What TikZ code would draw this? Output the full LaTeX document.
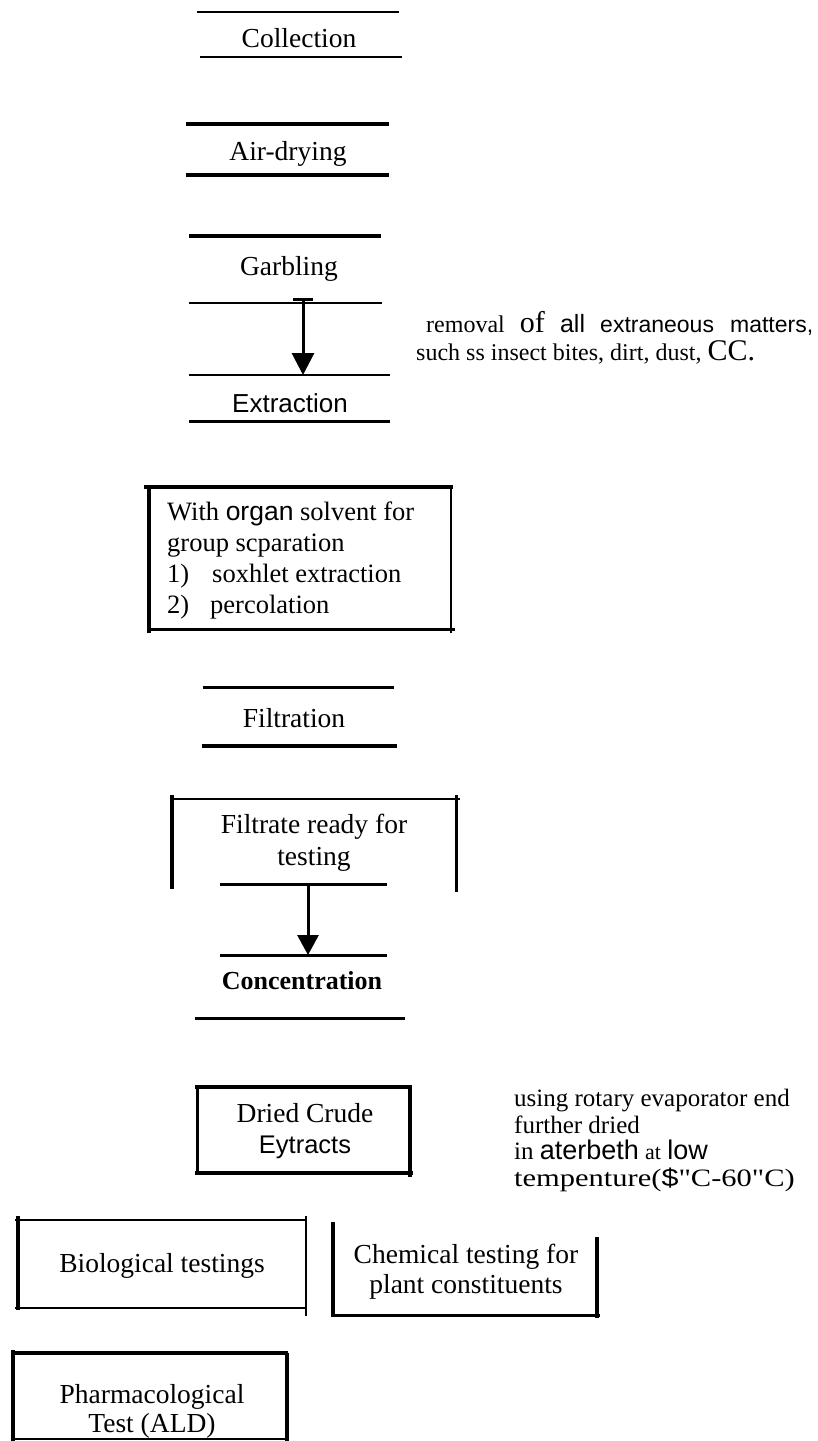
\documentclass[tikz,border=0pt]{standalone}
\usepackage{fontspec}
\setmainfont{Liberation Serif}
\newfontfamily\arialfont{Liberation Sans}
\newfontfamily\rawserif{Liberation Serif}
\usepackage{graphicx}
\usepackage{tikz}
\usetikzlibrary{arrows.meta, positioning}
\tikzset{
    stagetext/.style={inner sep=0pt, anchor=base, align=center, font=\fontsize{27.5}{30.5}\selectfont},
    boxtext/.style={inner sep=0pt, anchor=base west, align=left, font=\fontsize{26.5}{31}\selectfont},
    notetext/.style={inner sep=0pt, anchor=base west, align=left, font=\fontsize{24}{28}\selectfont},
    thinrule/.style={line width=2pt},
    midrule/.style={line width=3pt},
    thickrule/.style={line width=4.5pt},
    arrow/.style={-{Triangle[width=21pt,length=20pt]}, line width=3pt},
    cappedarrow/.style={{Bar[width=20pt]}-{Triangle[width=22pt,length=22pt]}, line width=3pt},
}

\begin{document}
\begin{tikzpicture}[x=1pt, y=-1pt]
    \useasboundingbox (0,0) rectangle (818,1441);

    % === COLLECTION / DRYING / GARBLING ===
    \node[stagetext] (collection) at (299,47) {Collection};
    \draw[thinrule] (197,12) -- (399,12);
    \draw[thinrule] (200,57) -- (402,57);

    \node[stagetext] (airdrying) at (288,160) {Air-drying};
    \draw[thickrule] (186,124) -- (389,124);
    \draw[thickrule] (186,175) -- (389,175);

    \node[stagetext] (garbling) at (289,275) {Garbling};
    \draw[thickrule] (189,236) -- (381,236);
    \draw[thinrule] (189,303) -- (382,303);

    % === EXTRACTION ===
    \node[stagetext, font=\arialfont\fontsize{26}{30}\selectfont] (extraction) at (290,412) {Extraction};
    \draw[thinrule] (189,375) -- (390,375);
    \draw[midrule] (189,421) -- (390,421);

    \coordinate (garbcap) at (303,298);
    \coordinate (extrtop) at (303,375);
    \draw[cappedarrow] (garbcap) -- (extrtop);

    % multi-line nodes sit on the baseline of their last line
    \node[notetext] (garbnote) at (416,360) {\hspace*{10pt}\makebox[387pt][s]{removal {\fontsize{30}{28}\selectfont of} {\arialfont\fontsize{25}{28}\selectfont all} {\arialfont\fontsize{23}{28}\selectfont extraneous matters,}}\\such ss insect bites, dirt, dust, {\fontsize{30}{28}\selectfont CC.}};

    \node[boxtext] (solvent) at (167,613) {With {\arialfont organ} solvent for\\group scparation\\\makebox[45pt][l]{1)}soxhlet extraction\\\makebox[43pt][l]{2)}percolation};
    \draw[thickrule] (144,487) -- (453,487);
    \draw[thickrule] (149,485) -- (149,633);
    \draw[thinrule] (451,487) -- (451,633);
    \draw[midrule] (149,629) -- (455,629);

    % === FILTRATION ===
    \node[stagetext] (filtration) at (294,727) {Filtration};
    \draw[midrule] (203,687) -- (394,687);
    \draw[thickrule] (202,746) -- (397,746);

    \node[stagetext, font=\fontsize{27.5}{32}\selectfont] (filtrate) at (314,865) {Filtrate ready for\\testing};
    \draw[thinrule] (170,799) -- (460,799);
    \draw[thickrule] (172,795) -- (172,889);
    \draw[midrule] (456,795) -- (456,892);
    \draw[midrule] (220,884) -- (387,884);

    % === CONCENTRATION ===
    \node[stagetext, font=\bfseries\fontsize{26}{30}\selectfont] (concentration) at (302,989) {Concentration};
    \draw[midrule] (220,955) -- (387,955);
    \draw[midrule] (195,1018) -- (405,1018);

    \coordinate (filtout) at (308,884);
    \coordinate (concin) at (308,955);
    \draw[arrow] (filtout) -- (concin);

    \node[stagetext] (driedcrude) at (305,1153) {Dried Crude\\{\arialfont\fontsize{25.5}{30}\selectfont Eytracts}};
    \draw[thickrule] (195,1087) -- (412,1087);
    \draw[midrule] (197,1087) -- (197,1173);
    \draw[thickrule] (410,1087) -- (410,1177);
    \draw[thickrule] (195,1173) -- (413,1173);

    \node[notetext, font=\fontsize{25}{26.5}\selectfont] (drynote) at (514,1186) {using rotary evaporator end\\further dried\\ in {\arialfont\fontsize{27}{26.5}\selectfont aterbeth} {\fontsize{22}{26.5}\selectfont at} {\arialfont\fontsize{27}{26.5}\selectfont low}\\\scalebox{1.22}[1]{tempenture({\arialfont\$}{\rawserif "}C-60{\rawserif "}C)}};

    % === TESTING ===
    \node[stagetext] (biotest) at (162,1272) {Biological testings};
    \draw[thinrule] (15,1220) -- (307,1220);
    \draw[thickrule] (18,1216) -- (18,1310);
    \draw[thinrule] (306,1216) -- (306,1316);
    \draw[thinrule] (15,1308) -- (307,1308);

    \node[stagetext, font=\fontsize{27.5}{30}\selectfont] (chemtest) at (466,1293) {Chemical testing for\\plant constituents};
    \draw[thickrule] (333,1222) -- (333,1317);
    \draw[midrule] (333,1315) -- (600,1315);
    \draw[thickrule] (597,1237) -- (597,1318);

    \node[stagetext, font=\fontsize{27.5}{28.5}\selectfont] (pharmatest) at (152,1432) {Pharmacological\\Test (ALD)};
    \draw[thickrule] (12,1353) -- (288,1353);
    \draw[thickrule] (13,1350) -- (13,1441);
    \draw[thickrule] (287,1353) -- (287,1441);
    \draw[thinrule] (12,1439) -- (288,1439);

\end{tikzpicture}
\end{document}
